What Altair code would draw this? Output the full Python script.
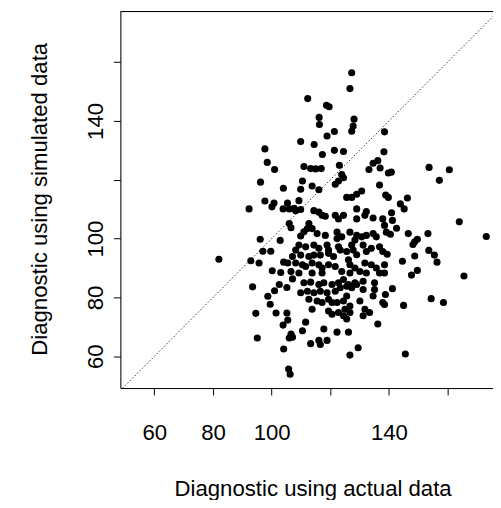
import altair as alt
import pandas as pd

# Diagnostic values
actual = [
    127.3, 126.7, 112.3, 118.7, 119.6, 116.2, 116.3, 128.1, 127.8, 127.3, 121.4, 118.9, 138.5, 109.9,
    114.5, 117.3, 121.4, 124.5, 138.3, 111.0, 113.3, 115.0, 116.9, 123.1, 134.6, 136.2, 133.2, 137.0,
    153.7, 160.6, 97.7, 98.5, 101.0,
    96.2, 104.0, 92.3, 97.7, 100.8, 100.1, 103.9, 105.4, 106.0, 106.6, 96.1, 102.9, 97.0, 99.7, 82.0,
    92.9, 95.7, 104.1, 105.5, 100.2, 103.1,
    93.5, 102.6, 105.2, 101.0, 98.7, 99.5, 94.6, 101.5, 105.2, 105.5, 103.9, 95.1, 106.0, 104.1, 105.8, 106.3,
    147.7, 149.7, 165.6, 141.2, 138.8, 138.5, 145.0, 154.4, 158.6, 145.6,
    139.8, 140.8, 157.2, 138.9, 139.8, 146.3, 143.9, 145.2, 140.9, 141.2, 164.0, 138.5, 142.6, 139.1,
    140.5, 146.6, 153.3, 173.2, 149.7, 148.8, 148.2, 153.6, 155.5, 156.4, 139.4, 148.8, 144.6, 138.5,
    123.9, 124.5, 122.8, 121.7, 110.5, 113.8, 116.1, 109.9, 136.8, 130.7, 129.0, 127.3, 125.6, 107.7,
    109.9, 108.2, 109.3, 114.4, 116.1, 117.2, 118.3, 121.7, 122.8, 124.5, 129.0, 132.3, 131.8, 134.6,
    129.0, 137.9, 106.0, 112.7, 112.2, 113.8, 111.0, 109.9, 115.5, 118.3, 122.3, 123.9, 122.3, 126.7,
    129.0, 128.4, 130.7, 132.3, 134.6, 135.7, 109.3, 111.6, 108.2, 114.4, 116.1, 118.9, 119.4, 122.8,
    123.4, 127.3, 127.8, 129.0, 131.2, 132.3, 134.0, 136.8, 137.9, 107.1, 109.9, 112.7, 114.4, 116.6,
    119.4, 121.1, 125.6, 126.2, 108.2, 110.5, 111.6, 113.8, 116.1, 117.2, 119.4, 121.7, 126.7, 128.4,
    131.8, 134.0, 135.7, 138.5, 106.6, 109.3, 113.8, 117.2, 123.9, 126.7, 130.1, 132.3, 136.8,
    107.1, 111.0, 113.3, 116.1, 117.8, 120.6, 122.8, 124.5, 126.2, 128.4, 131.2, 135.1, 109.9, 112.2,
    114.4, 116.6, 118.9, 121.7, 123.4, 125.6, 127.3, 129.0, 131.2, 135.1, 112.7, 115.5, 117.2, 119.4,
    120.6, 122.3, 124.5, 125.6, 126.7, 130.1, 134.6, 113.8, 119.4, 120.6, 122.8, 124.5, 125.6, 125.0,
    126.7, 131.8, 133.4, 131.2, 137.9, 111.6, 136.2, 106.6, 107.1, 110.5, 117.8, 122.3, 126.2, 113.3,
    116.1, 116.6, 118.9, 129.5, 126.7,
]
simulated = [
    156.4, 151.0, 147.6, 145.3, 144.8, 141.2, 138.8, 140.6, 138.3, 136.5, 136.4, 134.9, 136.3, 133.0,
    132.0, 128.6, 130.0, 129.6, 129.5, 124.5, 123.8, 123.7, 123.8, 124.9, 125.6, 126.5, 123.5, 124.0,
    124.2, 123.4, 130.5, 125.9, 123.5,
    119.2, 117.1, 110.1, 112.8, 112.1, 110.8, 110.1, 112.1, 110.1, 103.7, 99.8, 99.4, 95.7, 95.7, 93.0,
    92.5, 91.7, 92.0, 91.7, 89.1, 88.5,
    83.6, 84.4, 83.4, 82.3, 80.4, 77.7, 74.6, 74.7, 74.7, 72.3, 70.6, 66.2, 66.2, 62.5, 55.7, 53.9,
    87.6, 89.2, 87.3, 83.0, 81.0, 77.6, 77.3, 79.6, 78.3, 60.8,
    122.3, 122.6, 119.8, 114.8, 114.0, 113.8, 111.8, 110.1, 108.8, 106.2, 105.7, 104.5, 103.5, 102.2,
    101.5, 101.7, 101.7, 100.7, 99.8, 98.9, 98.0, 96.0, 94.4, 92.0, 94.7, 94.1, 92.3, 91.1,
    121.8, 120.7, 119.6, 118.5, 119.6, 117.9, 116.6, 116.8, 118.2, 116.2, 115.1, 114.0, 114.0, 110.3,
    109.9, 109.5, 112.9, 109.5, 109.0, 107.9, 107.6, 107.9, 106.7, 107.9, 110.1, 109.2, 107.9, 107.0,
    106.7, 106.7, 105.1, 105.1, 103.4, 103.4, 102.3, 100.9, 101.7, 101.1, 102.2, 100.6, 100.0, 102.2,
    101.1, 99.5, 100.6, 101.1, 101.7, 100.6, 97.8, 97.2, 96.1, 97.8, 96.7, 97.8, 96.1, 97.2,
    96.1, 97.8, 96.1, 94.5, 97.8, 95.6, 96.7, 97.2, 95.6, 93.9, 94.4, 93.9, 94.4, 94.4,
    95.0, 93.9, 95.6, 92.8, 91.7, 91.1, 90.5, 91.7, 91.1, 90.0, 91.1, 90.5, 91.1, 90.0,
    91.7, 91.1, 90.0, 88.3, 88.8, 88.3, 88.3, 88.3, 88.8, 88.3, 88.8, 88.3, 88.3,
    86.3, 85.0, 85.2, 84.4, 85.0, 84.4, 85.0, 86.1, 84.4, 85.0, 85.5, 85.0, 81.6, 82.1,
    81.6, 82.1, 81.6, 82.1, 83.3, 83.8, 83.3, 84.4, 82.7, 82.7, 79.4, 78.8, 78.3, 79.4,
    78.3, 78.3, 78.8, 80.5, 77.1, 78.8, 80.5, 76.0, 75.4, 74.3, 74.9, 73.8, 72.7, 76.0,
    74.9, 76.0, 74.9, 73.8, 78.3, 71.6, 71.0, 67.6, 66.5, 68.7, 69.3, 68.2, 68.2, 64.3,
    65.4, 64.0, 65.4, 62.9, 60.4,
]
tick_values = [60, 80, 100, 120, 140, 160]
diag_ends = [40, 185]

W, H = 378, 382
FONT = "Liberation Sans"
FS = 22.5

df = pd.DataFrame({"actual": actual, "simulated": simulated})
diag = pd.DataFrame({"actual": diag_ends, "simulated": diag_ends})

xscale = alt.Scale(domain=[48.4, 175.5], nice=False, zero=False)
yscale = alt.Scale(domain=[49.2, 177.2], nice=False, zero=False)
label_expr = "datum.value == 120 || datum.value == 160 ? '' : datum.label"

common = dict(
    values=tick_values, labelExpr=label_expr, grid=False,
    domainColor="black", domainWidth=1, tickColor="black", tickWidth=1, tickSize=7,
    labelFont=FONT, labelFontSize=FS, labelColor="black", labelOverlap=False, labelFlush=False,
    titleFont=FONT, titleFontSize=FS, titleFontWeight="normal", titleColor="black",
)
xaxis = alt.Axis(
    title="Diagnostic using actual data", labelPadding=27,
    titleX=195, titleY=102, titleAlign="center", titleBaseline="middle", **common,
)
yaxis = alt.Axis(
    title="Diagnostic using simulated data", labelAngle=270, labelAlign="center",
    labelBaseline="alphabetic", labelPadding=11,
    titleAngle=270, titleX=-82, titleY=190, titleAlign="center", titleBaseline="middle", **common,
)

X = alt.X("actual:Q", scale=xscale, axis=xaxis)
Y = alt.Y("simulated:Q", scale=yscale, axis=yaxis)

points = alt.Chart(df).mark_circle(size=52, color="black", opacity=1).encode(x=X, y=Y)
line = alt.Chart(diag).mark_line(clip=True, color="#333333", strokeWidth=1, strokeDash=[1.5, 2]).encode(x=X, y=Y)
top = alt.Chart(pd.DataFrame({"a": [0]})).mark_rule(color="black", strokeWidth=1).encode(
    x=alt.value(0), x2=alt.value(W), y=alt.value(0)
)

chart = alt.layer(line, points, top).properties(
    width=W, height=H,
    padding={"left": 114, "top": 0, "right": 0, "bottom": 110},
    autosize=alt.AutoSizeParams(type="none"),
).configure_view(stroke=None).configure(background="white")

chart.save("out.html", embed_options={"renderer": "svg", "actions": False})
